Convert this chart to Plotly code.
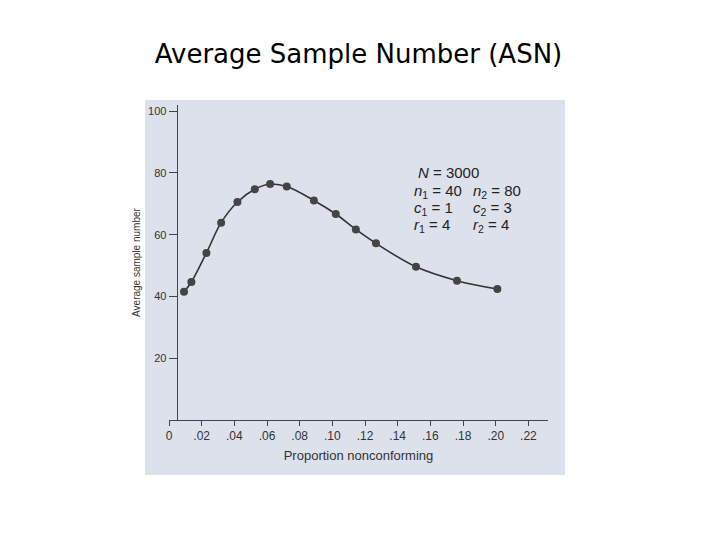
import plotly.graph_objects as go

p = [0.0092, 0.0137, 0.0229, 0.0319, 0.0419, 0.0525, 0.0619, 0.0721, 0.0887,
     0.1021, 0.1144, 0.1267, 0.1512, 0.1763, 0.2010]
asn = [41.5, 44.7, 54.1, 63.9, 70.6, 74.7, 76.4, 75.6, 71.1, 66.7, 61.7, 57.2,
       49.6, 45.1, 42.4]
xticks = [0, 0.02, 0.04, 0.06, 0.08, 0.10, 0.12, 0.14, 0.16, 0.18, 0.20, 0.22]
xlabels = ["0", ".02", ".04", ".06", ".08", ".10", ".12", ".14", ".16", ".18", ".20", ".22"]
yticks = [20, 40, 60, 80, 100]

W, H = 704, 524
L, R, T, B = 161, 540, 97, 412
fig = go.Figure()
fig.add_trace(go.Scatter(x=p, y=asn, mode="lines+markers",
                         line=dict(color="#333", width=1.6, shape="spline"),
                         marker=dict(color="#444", size=8)))
fig.add_shape(type="rect", xref="paper", yref="paper", layer="below",
              x0=(137-L)/(R-L), x1=(557-L)/(R-L),
              y0=(B-467)/(B-T), y1=(B-92)/(B-T),
              fillcolor="#dde1ec", line_width=0)
fig.update_layout(
    width=W, height=H, paper_bgcolor="white", plot_bgcolor="rgba(0,0,0,0)",
    margin=dict(l=L, r=W-R, t=T, b=H-B),
    showlegend=False,
    title=dict(text="Average Sample Number (ASN)", x=0.5, xref="paper", y=0.93,
               xanchor="center", font=dict(family="DejaVu Sans", size=26, color="black")),
    font=dict(family="Liberation Sans", color="#333"),
    xaxis=dict(range=[0, 0.232], tickvals=xticks, ticktext=xlabels, showgrid=False,
               zeroline=False, showline=True, linecolor="#444", ticks="outside",
               ticklen=5, tickfont=dict(size=12),
               title=dict(text="Proportion nonconforming", font=dict(size=13), standoff=8)),
    yaxis=dict(range=[0, 102], tickvals=yticks, showgrid=False, zeroline=False,
               showline=True, linecolor="#444", ticks="outside", ticklen=8,
               tickfont=dict(size=11), anchor="free", position=0.02,
               title=dict(text="Average sample number", font=dict(size=10), standoff=4)),
)
ann = [("<i>N</i> = 3000", 0.151, 80), ("<i>n</i><sub>1</sub> = 40", 0.149, 74),
       ("<i>n</i><sub>2</sub> = 80", 0.185, 74), ("<i>c</i><sub>1</sub> = 1", 0.149, 68.5),
       ("<i>c</i><sub>2</sub> = 3", 0.185, 68.5), ("<i>r</i><sub>1</sub> = 4", 0.149, 63),
       ("<i>r</i><sub>2</sub> = 4", 0.185, 63)]
for t, x, y in ann:
    fig.add_annotation(text=t, x=x, y=y, showarrow=False, xanchor="left",
                       font=dict(size=15, color="#222"))
fig.write_html("out.html")
